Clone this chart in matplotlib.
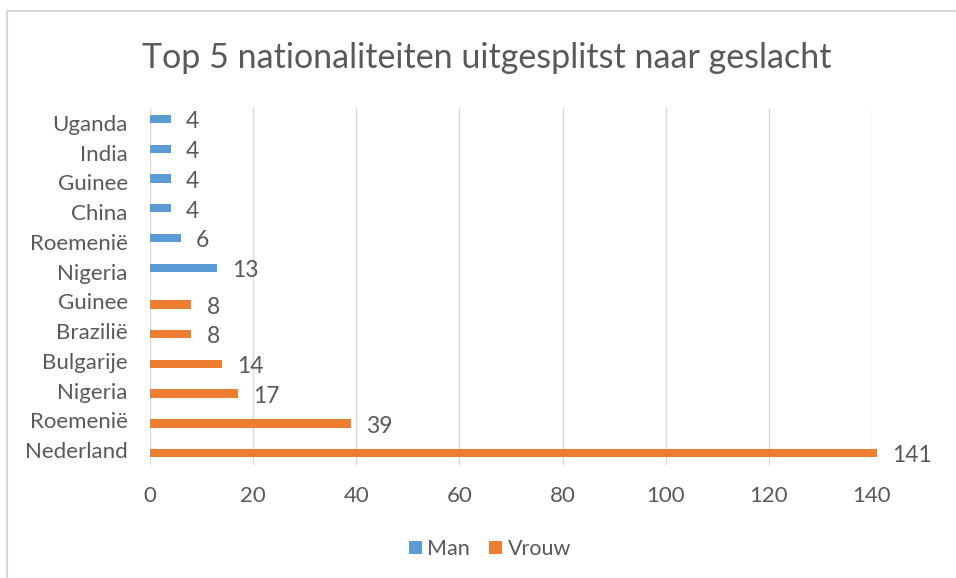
import matplotlib
matplotlib.use("Agg")
import matplotlib.pyplot as plt
from matplotlib.lines import Line2D
from matplotlib.patches import Patch

plt.rcParams['font.family'] = ['Lato', 'DejaVu Sans']

categories = ["Nederland", "Roemenië", "Nigeria", "Bulgarije", "Brazilië", "Guinee",
              "Nigeria", "Roemenië", "China", "Guinee", "India", "Uganda"]
series_names = ["Man", "Vrouw"]
vrouw_values = [141, 39, 17, 14, 8, 8]
man_values = [13, 6, 4, 4, 4, 4]
x_ticks = [0, 20, 40, 60, 80, 100, 120, 140]

c_man = "#5B9BD5"
c_vrouw = "#ED7D31"
txt = "#595959"
grid = "#D9D9D9"

W, H = 956, 578
fig = plt.figure(figsize=(W / 100, H / 100), dpi=100)
ax = fig.add_axes([150 / W, 1 - 465 / H, (872 - 150) / W, (465 - 108) / H])

n_v = len(vrouw_values)
ys_v = [i - 0.1 for i in range(n_v)]
ys_m = [n_v + i + 0.13 for i in range(len(man_values))]
bh = 0.28

bv = ax.barh(ys_v, vrouw_values, height=bh, color=c_vrouw, clip_on=False, zorder=3)
bm = ax.barh(ys_m, man_values, height=bh, color=c_man, clip_on=False, zorder=3)

for bars, vals, ys in ((bv, vrouw_values, ys_v), (bm, man_values, ys_m)):
    for v, y in zip(vals, ys):
        ax.annotate(str(v), xy=(v, y), xytext=(11, -2), textcoords="offset points",
                    ha="left", va="center", fontsize=16.5, color=txt, annotation_clip=False)

ax.set_xlim(0, 140)
ax.set_ylim(-0.5, len(categories) - 0.5)
ax.set_yticks(range(len(categories)))
ax.set_yticklabels(categories)
ax.set_xticks(x_ticks)
ax.tick_params(axis="both", length=0, labelsize=16, colors=txt)
ax.tick_params(axis="y", pad=16)
ax.tick_params(axis="x", pad=15)
for s in ax.spines.values():
    s.set_visible(False)
ax.grid(axis="x", color=grid, linewidth=1, zorder=0)
ax.set_axisbelow(True)

fig.text(487 / W, 1 - 58 / H, "Top 5 nationaliteiten uitgesplitst naar geslacht",
         ha="center", va="center", fontsize=24.5, color=txt)

handles = [Patch(facecolor=c_man), Patch(facecolor=c_vrouw)]
fig.legend(handles, series_names, loc="center", bbox_to_anchor=(490 / W, 1 - 549 / H),
           ncol=2, frameon=False, fontsize=15.5, labelcolor=txt, handlelength=0.6,
           handleheight=0.6, handletextpad=0.25, columnspacing=0.9)

# chart border (left and top)
fig.add_artist(Line2D([7 / W, 7 / W], [0, 1 - 11 / H], transform=fig.transFigure,
                      color="#D9D9D9", linewidth=1.5))
fig.add_artist(Line2D([7 / W, 1], [1 - 11 / H, 1 - 11 / H], transform=fig.transFigure,
                      color="#D9D9D9", linewidth=1.5))

fig.savefig("out.png", dpi=100)
